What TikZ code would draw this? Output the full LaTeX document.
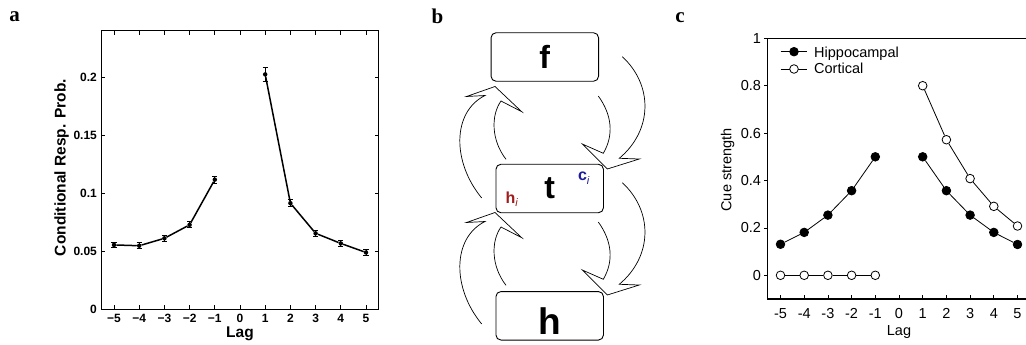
\documentclass[tikz,border=0pt]{standalone}
\usepackage{fontspec}
\newfontfamily\sansf{Liberation Sans}
\newfontfamily\serff{Liberation Serif}
\definecolor{hipred}{RGB}{160,28,28}
\definecolor{ctxblue}{RGB}{28,28,160}

\begin{document}
\begin{tikzpicture}[x=1pt, y=-1pt,
    panellab/.style={font=\serff\bfseries\fontsize{21}{24}\selectfont, inner sep=0, anchor=base},
    ticklab/.style={font=\sansf\bfseries\fontsize{12}{14}\selectfont, inner sep=0},
    axlab/.style={font=\sansf\bfseries\fontsize{15.5}{18}\selectfont, inner sep=0},
    cuelab/.style={font=\sansf\fontsize{14.5}{17}\selectfont, inner sep=0},
    stagebox/.style={draw, rounded corners=5pt, line width=0.9pt, minimum width=107.5pt,
        minimum height=48.5pt, inner sep=0, font=\sansf\bfseries\fontsize{32}{36}\selectfont},
    flowshape/.style={draw, line width=0.7pt, line join=miter},
    adot/.style={circle, fill, inner sep=0, minimum size=4.5pt},
    hipdot/.style={circle, draw, fill=black, inner sep=0, minimum size=8.6pt, line width=0.8pt},
    ctxdot/.style={circle, draw, fill=white, inner sep=0, minimum size=8.6pt, line width=0.8pt}]

\useasboundingbox (0,0) rectangle (1026,345);

% panel letters
\node[panellab] (la) at (14.5,21.7) {a};
\node[panellab] (lb) at (437.5,23.3) {b};
\node[panellab] (lc) at (680,22.5) {c};

% a: conditional response probability
\begin{scope}[shift={(240,309.3)}, x=25.2pt, y=1160pt]
    \draw[line width=1pt] (-5.5,0) rectangle (5.5,0.24);
    \foreach \k/\t [count=\n] in {-5/−5,-4/−4,-3/−3,-2/−2,-1/−1,0/0,1/1,2/2,3/3,4/4,5/5} {
        \draw[line width=0.8pt] (\k,0) -- +(0pt,4pt);
        \draw[line width=0.8pt] (\k,0.24) -- +(0pt,-4pt);
        \node[ticklab, yshift=-9.2pt] (ax\n) at (\k,0) {\t};
    }
    \foreach \v [count=\n] in {0,0.05,0.1,0.15,0.2} {
        \draw[line width=0.8pt] (-5.5,\v) -- +(4pt,0pt);
        \draw[line width=0.8pt] (5.5,\v) -- +(-4pt,0pt);
        \node[ticklab, anchor=east, xshift=-4.3pt] (ay\n) at (-5.5,\v) {\v};
    }
    \foreach \k/\v/\e [count=\n] in {-5/0.0555/0.0025,-4/0.0548/0.0025,-3/0.0612/0.0025,
            -2/0.0728/0.0025,-1/0.1118/0.003,1/0.2025/0.006,2/0.0915/0.003,
            3/0.0655/0.0025,4/0.0568/0.0025,5/0.0490/0.0025} {
        \node[adot] (ap\n) at (\k,\v) {};
        \draw[line width=1pt] (\k,\v-\e) -- (\k,\v+\e);
        \draw[line width=1pt] (\k-0.1,\v-\e) -- (\k+0.1,\v-\e);
        \draw[line width=1pt] (\k-0.1,\v+\e) -- (\k+0.1,\v+\e);
    }
    \draw[line width=1.5pt] (ap1) -- (ap2) -- (ap3) -- (ap4) -- (ap5);
    \draw[line width=1.5pt] (ap6) -- (ap7) -- (ap8) -- (ap9) -- (ap10);
\end{scope}
\node[axlab, rotate=90] (aylab) at (61.7,167.5) {Conditional Resp. Prob.};
\node[axlab] (axlab) at (240,334) {Lag};

% b: f / t / h
\node[stagebox] (f) at (544.8,57) {f};
\node[stagebox] (t) at (549.7,188.5) {t};
\node[stagebox, font=\sansf\bfseries\fontsize{37}{40}\selectfont, text height=38pt, text depth=0pt] (h) at (549.7,315.8) {h};
\node[anchor=base west, inner sep=0, text=hipred, font=\sansf\bfseries\fontsize{16}{18}\selectfont] (hi)
    at (505.5,203) {h\raisebox{-3.3pt}{\fontsize{11}{12}\selectfont\mdseries\itshape i}};
\node[anchor=base west, inner sep=0, text=ctxblue, font=\sansf\bfseries\fontsize{16}{18}\selectfont] (ci)
    at (577.8,180.3) {c\raisebox{-4.4pt}{\fontsize{11}{12}\selectfont\mdseries\itshape i}};
\foreach \dy in {0,126} {
    \begin{scope}[shift={(0,\dy)}]
        \draw[flowshape] (506,159.3) .. controls (491,140) and (491,115) .. (501,101)
            -- (521.7,111.7) -- (495,86.5) -- (466.5,96.5) -- (485,95.5)
            .. controls (452,112) and (452,162) .. (481.7,198);
        \draw[flowshape] (598.3,96) .. controls (612,115) and (614,135) .. (603.3,153.3)
            -- (582.3,144) -- (607.3,169) -- (639.3,159) -- (619.3,158.3)
            .. controls (653,130) and (653,85) .. (622.3,56.7);
    \end{scope}
}

% c: cue strength
\begin{scope}[shift={(899,275.3)}, x=23.7pt, y=237pt]
    \draw[line width=1.2pt] (5.36,1) -- (-5.54,1) -- (-5.54,-0.1) -- (5.36,-0.1);
    \foreach \k [count=\n] in {-5,...,5} {
        \draw[line width=0.8pt] (\k,-0.1) -- +(0pt,4pt);
        \node[cuelab, yshift=-14.3pt] (cx\n) at (\k,-0.1) {\k};
    }
    \foreach \v [count=\n] in {0,0.2,0.4,0.6,0.8,1} {
        \draw[line width=0.8pt] (-5.54,\v) -- +(-4pt,0pt);
        \node[cuelab, anchor=east, xshift=-6.5pt] (cy\n) at (-5.54,\v) {\v};
    }
    \foreach \k/\a/\b [count=\n] in {-5/0.131/0,-4/0.181/0,-3/0.254/0,-2/0.357/0,-1/0.5/0,
            1/0.5/0.8,2/0.357/0.572,3/0.254/0.408,4/0.181/0.291,5/0.13/0.208} {
        \node[hipdot] (hp\n) at (\k,\a) {};
        \node[ctxdot] (cp\n) at (\k,\b) {};
    }
    \foreach \i/\j in {1/2,2/3,3/4,4/5,6/7,7/8,8/9,9/10} {
        \draw[line width=0.8pt] (hp\i) -- (hp\j);
        \draw[line width=0.8pt] (cp\i) -- (cp\j);
    }
\end{scope}
\coordinate (lg1a) at (780.7,51.7);
\coordinate (lg1b) at (806.7,51.7);
\coordinate (lg2a) at (780.7,69);
\coordinate (lg2b) at (806.7,69);
\draw[line width=0.8pt] (lg1a) -- (lg1b);
\draw[line width=0.8pt] (lg2a) -- (lg2b);
\node[hipdot] (lgh) at (794,51.7) {};
\node[ctxdot] (lgc) at (794,69) {};
\node[cuelab, anchor=base west] (lghtxt) at (814,57.3) {Hippocampal};
\node[cuelab, anchor=base west] (lgctxt) at (814,74) {Cortical};
\node[cuelab, rotate=90] (cylab) at (727.7,170) {Cue strength};
\node[cuelab] (cxlab) at (899,331.7) {Lag};
\end{tikzpicture}
\end{document}
